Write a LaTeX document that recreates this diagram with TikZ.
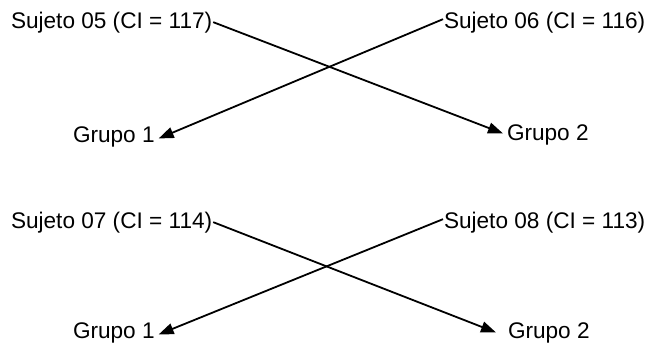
\documentclass[tikz,border=0pt]{standalone}
\usepackage{fontspec}
\setmainfont{Liberation Sans}
\usetikzlibrary{arrows.meta}
\begin{document}
\begin{tikzpicture}[x=1pt,y=-1pt,
  lbl/.style={inner sep=0pt,outer sep=0pt,anchor=base west,font=\fontsize{22.6}{26}\selectfont},
  link/.style={line width=1.8pt,-{Triangle[length=15pt,width=11pt]}}]
\useasboundingbox[fill=white] (0,0) rectangle (656,354);
% row 1
\node[lbl] (s5) at (11,28) {Sujeto 05 (CI = 117)};
\node[lbl] (s6) at (444,28) {Sujeto 06 (CI = 116)};
\node[lbl] (g1) at (73,142) {Grupo 1};
\node[lbl] (g2) at (507,140) {Grupo 2};
% row 2
\node[lbl] (s7) at (11,228) {Sujeto 07 (CI = 114)};
\node[lbl] (s8) at (444,228) {Sujeto 08 (CI = 113)};
\node[lbl] (g3) at (73,338) {Grupo 1};
\node[lbl] (g4) at (508,338) {Grupo 2};
% connectors
\draw[link] ([xshift=1pt]s5.east) -- ([xshift=-4pt,yshift=1pt]g2.west);
\draw[link] ([xshift=-1pt,yshift=3pt]s6.west) -- ([xshift=4pt,yshift=-2pt]g1.east);
\draw[link] ([xshift=1pt]s7.east) -- ([xshift=-12pt,yshift=0pt]g4.west);
\draw[link] ([xshift=-1pt,yshift=3pt]s8.west) -- ([xshift=4pt,yshift=-2pt]g3.east);
\end{tikzpicture}
\end{document}
